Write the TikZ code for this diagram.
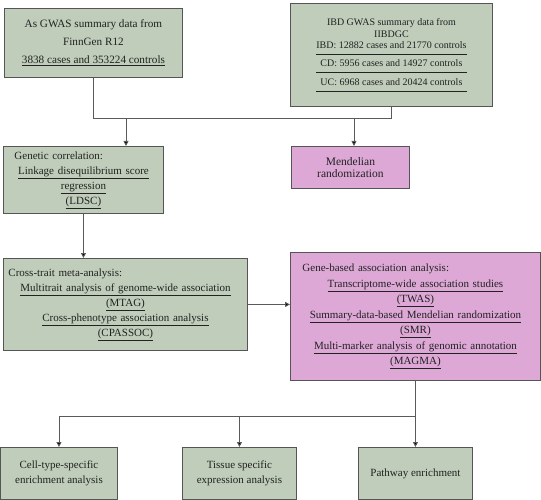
\documentclass[tikz,border=0pt]{standalone}
\usepackage{fontspec}
\setmainfont{Liberation Serif}
\usetikzlibrary{arrows.meta,calc,positioning}
\definecolor{boxgreen}{HTML}{BFCDBA}
\definecolor{boxpink}{HTML}{DDA8D6}
\definecolor{boxline}{HTML}{555555}
\definecolor{wire}{HTML}{5A5A5A}
\definecolor{ink}{HTML}{222222}
\newcommand{\headline}[1]{\makebox[\linewidth][l]{#1}}

\begin{document}
\begin{tikzpicture}[
  x=1pt, y=-1pt, line cap=butt, line join=miter,
  box/.style  ={draw=boxline, line width=0.9pt, rectangle, anchor=north west,
                inner sep=0pt, text=ink, align=center,
                font=\fontsize{11}{15}\selectfont},
  green/.style={box, fill=boxgreen},
  pink/.style ={box, fill=boxpink},
  conn/.style ={draw=wire, line width=0.9pt},
  arr/.style  ={conn, -{Triangle[length=5pt,width=5pt,fill=black]}}
]
\useasboundingbox (0,0) rectangle (541,500);

% --- input data --------------------------------------------------------
\node[green, minimum width=178pt, minimum height=69pt,
      font=\fontsize{11.2}{18}\selectfont] (asgwas) at (4,8)
  {As GWAS summary data from\\ FinnGen R12\\ \underline{3838 cases and 353224 controls}};
\node[green, minimum width=202pt, minimum height=103pt,
      font=\fontsize{10}{12}\selectfont] (ibd) at (290,3)
  {IBD GWAS summary data from\\ IIBDGC\\[-3pt]
   \renewcommand{\arraystretch}{1.5}%
   \begin{tabular}{@{}c@{}}
   IBD: 12882 cases and 21770 controls\\ \hline
   CD: 5956 cases and 14927 controls\\ \hline
   UC: 6968 cases and 20424 controls\\ \hline
   \end{tabular}};

% --- first analyses ----------------------------------------------------
\node[green, minimum width=160pt, minimum height=67pt, text width=138pt] (gencor) at (3,146)
  {\headline{Genetic correlation:}\\ \underline{Linkage disequilibrium score}\\
   \underline{regression}\\ \underline{(LDSC)}};
\node[pink, minimum width=118pt, minimum height=42pt,
      font=\fontsize{11.5}{12.5}\selectfont] (mr) at (291,146)
  {Mendelian\\ randomization};

% --- second analyses ---------------------------------------------------
\node[green, minimum width=244pt, minimum height=92pt, text width=234pt] (cross) at (3,258)
  {\headline{Cross-trait meta-analysis:}\\
   \underline{Multitrait analysis of genome-wide association}\\ \underline{(MTAG)}\\
   \underline{Cross-phenotype association analysis}\\ \underline{(CPASSOC)}};
\node[pink, minimum width=250pt, minimum height=128pt, text width=226pt,
      font=\fontsize{11}{15.5}\selectfont] (gene) at (290,252)
  {\headline{Gene-based association analysis:}\\
   \underline{Transcriptome-wide association studies}\\ \underline{(TWAS)}\\
   \underline{Summary-data-based Mendelian randomization}\\ \underline{(SMR)}\\
   \underline{Multi-marker analysis of genomic annotation}\\ \underline{(MAGMA)}};

% --- downstream --------------------------------------------------------
\node[green, minimum width=117pt, minimum height=52pt] (cell) at (0,447)
  {Cell-type-specific\\ enrichment analysis};
\node[green, minimum width=114pt, minimum height=52pt] (tissue) at (182,447)
  {Tissue specific\\ expression analysis};
\node[green, minimum width=114pt, minimum height=52pt] (pathway) at (358,447)
  {Pathway enrichment};

% --- connectors --------------------------------------------------------
\coordinate (join) at (0,118);
\coordinate (splitA) at (126,118);
\coordinate (splitB) at (354,118);
\coordinate (bus) at (0,416);

\draw[conn] (asgwas.south) |- (ibd.south |- join) -- (ibd.south);
\draw[arr] (splitA) -- (splitA |- gencor.north);
\draw[arr] (splitB) -- (splitB |- mr.north);
\draw[arr] (gencor.south) -- (gencor.south |- cross.north);
\draw[arr] (cross.east) -- (cross.east -| gene.west);
\draw[arr] (gene.south) -- (pathway.north);
\draw[arr] (gene.south |- bus) -| (cell.north);
\draw[arr] (tissue.north |- bus) -- (tissue.north);

\end{tikzpicture}
\end{document}
